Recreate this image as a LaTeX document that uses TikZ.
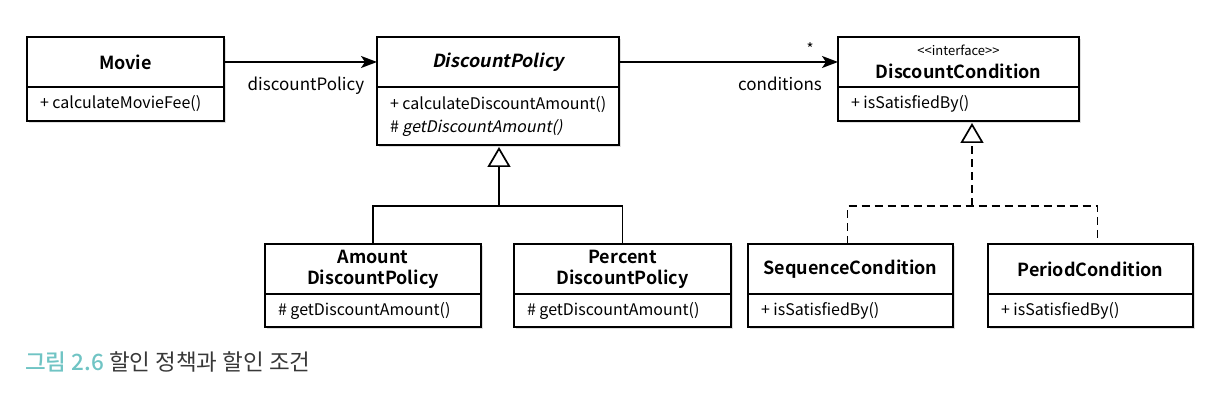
\documentclass[tikz,border=0pt]{standalone}
\usepackage{fontspec}
\setmainfont{Noto Sans CJK KR}[BoldFont={* Bold},ItalicFont={*},ItalicFeatures={FakeSlant=0.2},BoldItalicFont={* Bold},BoldItalicFeatures={FakeSlant=0.2}]
\newfontfamily\capmed{Noto Sans CJK KR Medium}
\usetikzlibrary{arrows.meta,shadows}
\definecolor{capteal}{HTML}{70C4C4}
\definecolor{capgray}{HTML}{383838}
\tikzset{
  box/.style={draw=black, line width=1.7pt, fill=white, inner sep=0pt, outer sep=0pt,
    drop shadow={opacity=0.25, shadow xshift=1.5pt, shadow yshift=-2pt}},
  titlebox/.style={box, font=\fontsize{18}{21}\selectfont\bfseries, align=center},
  membox/.style={box, font=\fontsize{16}{23}\selectfont, align=flush left},
  lbl/.style={font=\fontsize{17}{20}\selectfont, inner sep=0pt},
  assoc/.style={line width=1.7pt, -{Stealth[length=16pt,width=12pt,inset=4pt]}},
  inherit/.style={line width=1.7pt, -{Triangle[open,length=20pt,width=23pt,fill=white]}},
  realize/.style={inherit, dash pattern=on 8pt off 5pt},
  dashline/.style={line width=1.7pt, dash pattern=on 8pt off 5pt},
}
\newcommand\umlclass[8]{%
  \pgfmathsetmacro\umltw{#4-26}%
  \node[titlebox, minimum width=#4pt, minimum height=#5pt, anchor=north west] (#1) at (#2,#3) {#7};
  \node[membox, minimum width=#4pt, minimum height=#6pt, text width=\umltw pt, anchor=north] (#1-m) at (#1.south) {#8};
}
\begin{document}
\begin{tikzpicture}[x=1pt,y=-1pt]
\useasboundingbox (0,0) rectangle (1219,411);
\umlclass{movie}{27}{37}{197}{50}{34}{Movie}{+ calculateMovieFee()}
\umlclass{dp}{377}{37}{242}{50}{58}{\textit{DiscountPolicy}}{\mbox{+ calculateDiscountAmount()}\\\# \textit{getDiscountAmount()}}
\umlclass{dc}{838}{37}{241}{50}{34}{{\fontsize{13}{14}\selectfont\mdseries <{}<interface>{}>}\\[2pt]DiscountCondition}{+ isSatisfiedBy()}
\umlclass{amt}{265}{244}{216}{50}{33}{Amount\\DiscountPolicy}{\# getDiscountAmount()}
\umlclass{pct}{514}{244}{217}{50}{33}{Percent\\DiscountPolicy}{\# getDiscountAmount()}
\umlclass{seq}{748}{244}{205}{50}{33}{SequenceCondition}{+ isSatisfiedBy()}
\umlclass{per}{988}{244}{205}{50}{33}{PeriodCondition}{+ isSatisfiedBy()}

\draw[assoc] (movie.east) -- (dp.west);
\node[lbl] (l1) at (306,86) {discountPolicy};
\draw[assoc] (dp.east) -- (dc.west);
\node[lbl] (l2) at (780,84) {conditions};
\node[font=\fontsize{15}{15}\selectfont, inner sep=0pt] (star) at (810,49) {*};

\coordinate (j1) at (499,206);
\draw[inherit, shorten >=2pt] (j1) -- (j1 |- dp-m.south);
\draw[line width=1.7pt] (amt.north) |- (j1) -| (pct.north);

\coordinate (j2) at (972,206);
\draw[realize, shorten >=2pt] (j2) -- (j2 |- dc-m.south);
\draw[dashline] ([xshift=-3pt]seq.north) |- (j2) -| ([xshift=7pt]per.north);

\node[anchor=west, inner sep=0pt, font=\fontsize{22.5}{24}\selectfont] (cap) at (25,362)
  {\textcolor{capteal}{\capmed 그림 2.6} \textcolor{capgray}{할인 정책과 할인 조건}};
\end{tikzpicture}
\end{document}
